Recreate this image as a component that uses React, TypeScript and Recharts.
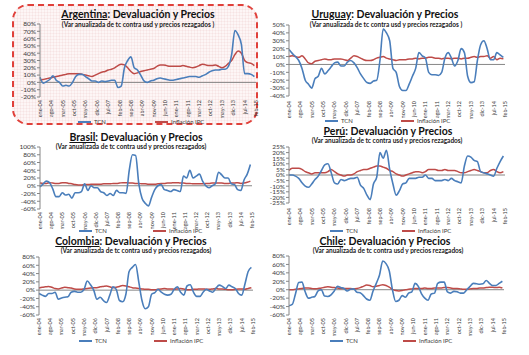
import React from "react";
import { LineChart, Line, XAxis, YAxis, ReferenceLine } from "recharts";

const FONT = "Lato, 'Open Sans', sans-serif";
const TCN_COLOR = "#4A7EBB";
const IPC_COLOR = "#BE4B48";
const AXIS_COLOR = "#868686";
const LABEL_COLOR = "#3a3a3a";
const STEP = 2; // months between samples

const tickLabels = [
  "ene-04", "ago-04", "mar-05", "oct-05", "may-06", "dic-06", "jul-07",
  "feb-08", "sep-08", "abr-09", "nov-09", "jun-10", "ene-11", "ago-11",
  "mar-12", "oct-12", "may-13", "dic-13", "jul-14", "feb-15",
];
const tickMonths = tickLabels.map((_, i) => i * 7);

// Argentina
const argTcn = [7, -1, 1, 4, 9, 3, 0, -5, -4, -5, 0, 8, 11, 11, 8, 5, 2, 2, 0, 2, 1, 2, 3, 3, -7, -5, 20, 30, 35, 20, 17, 10, 2, 0, 2, 3, 5, 6, 5, 4, 3, 3, 4, 5, 6, 7, 8, 8, 8, 7, 9, 11, 14, 16, 17, 17, 18, 18, 22, 38, 71, 65, 52, 12, 12, 11, 8];
const argIpc = [3, 4, 5, 6, 7, 8, 9, 10, 11, 12, 12, 12, 12, 11, 10, 9, 8, 10, 12, 14, 15, 17, 18, 20, 23, 25, 24, 20, 15, 12, 13, 15, 16, 17, 18, 19, 22, 24, 24, 23, 22, 22, 22, 22, 23, 22, 21, 20, 21, 23, 25, 24, 23, 23, 24, 22, 20, 22, 26, 30, 38, 43, 40, 30, 27, 26, 23];
// Uruguay
const uruTcn = [19, 14, 10, 5, -5, -20, -25, -30, -18, -15, -5, -12, -8, -3, 2, 3, -2, -2, 3, 5, 2, -4, -12, -18, -23, -24, -21, -20, 5, 45, 40, 30, -5, -10, -28, -33, -33, -25, -15, -5, 15, 11, 8, -10, -13, -13, -14, -10, 8, 15, 8, -2, 5, 20, 15, -15, -23, -22, 5, 25, 30, 20, 6, 6, 15, 12, 9];
const uruIpc = [10, 11, 10, 9, 11, 7, 2, 1, 4, 5, 6, 7, 6, 6, 7, 7, 7, 6, 5, 8, 11, 10, 8, 6, 5, 5, 6, 8, 9, 10, 8, 7, 6, 5, 6, 6, 6, 7, 7, 8, 7, 8, 8, 9, 9, 8, 8, 7, 8, 8, 7, 8, 8, 7, 8, 8, 9, 10, 9, 10, 10, 11, 8, 10, 6, 8, 7];
// Brasil
const braTcn = [-3, 5, 12, 8, -8, -28, -28, -18, -24, -22, -32, -18, -18, -15, 5, -12, 0, -5, -5, -15, -18, -25, -20, -25, -12, -18, -18, -20, 40, 80, 78, 5, -32, -45, -52, -30, -10, 0, 3, -10, -12, -15, -10, -12, -15, 25, 20, 40, 20, 25, 30, 12, 0, -5, 0, 5, 35, 28, 20, 20, 5, 3, -10, -12, 15, 30, 55];
const braIpc = [7, 6, 6, 8, 7, 6, 6, 8, 8, 6, 5, 3, 2, 2, 3, 3, 4, 4, 4, 4, 5, 5, 5, 6, 6, 7, 8, 8, 7, 7, 6, 6, 5, 5, 4, 4, 4, 5, 6, 6, 7, 7, 8, 8, 7, 7, 6, 6, 5, 5, 5, 5, 6, 6, 7, 7, 7, 7, 6, 6, 7, 7, 8, 6, 7, 9, 12];
// Perú
const peruTcn = [0, 0, -1, -3, -7, -10, -11, -8, -4, -1, 4, 9, 10, 2, -7, -8, -4, -5, -4, -3, -3, -2, -9, -12, -18, -22, -8, -2, 20, 15, 22, 5, -8, -18, -14, -8, -7, -3, -3, -3, -2, -2, 0, -3, -3, -5, -5, -5, -4, -5, -3, -5, -6, -7, 8, 17, 16, 13, 12, 3, 2, 1, 0, -1, 6, 12, 17];
const peruIpc = [4, 6, 6, 6, 5, 3, 2, 1, 2, 2, 2, 2, 3, 5, 3, 1, 0, -1, 0, 0, 1, 3, 4, 5, 5, 6, 7, 8, 8, 7, 6, 4, 3, 1, 0, -1, 0, 1, 2, 3, 3, 2, 3, 5, 5, 5, 4, 4, 5, 4, 4, 4, 3, 2, 2, 3, 4, 5, 4, 3, 2, 2, 4, 5, 3, 2, 3];
// Colombia
const colTcn = [-8, -12, -15, -8, -8, -5, -22, -19, -17, -16, -5, -3, -5, -5, 2, 22, 13, 0, -22, -17, -25, -30, -12, 8, 2, -25, -28, -10, 45, 55, 62, 20, -25, -45, -40, -10, -6, 2, -5, -10, -12, -10, 2, 8, -5, -12, 10, 13, -5, -15, -15, -5, 2, -2, -5, 5, 12, 9, 4, 12, 8, 4, -8, -12, 15, 45, 55];
const colIpc = [5, 7, 8, 9, 7, 4, 3, 5, 7, 6, 5, 3, 2, 2, 3, 4, 5, 6, 6, 8, 9, 10, 8, 6, 7, 9, 11, 10, 8, 6, 5, 4, 3, 2, 2, 1, 1, 2, 3, 4, 3, 3, 2, 3, 4, 3, 1, 1, 2, 2, 3, 3, 2, 2, 3, 4, 3, 3, 2, 1, 1, 2, 3, 3, 2, 4, 6];
// Chile
const chiTcn = [-38, -35, -10, 17, 18, -5, -20, -18, -16, -3, 0, -15, -16, -12, -3, 8, 5, 3, -3, 1, 2, -6, -7, -14, -22, -25, -3, 15, 35, 68, 62, 45, 0, -28, -25, -14, -18, -8, -5, 15, 8, -10, -20, -25, -10, -8, 15, 18, 18, -5, -8, -4, -5, -8, -8, 0, 8, 15, 14, 13, 14, 22, 15, 10, 10, 15, 20];
const chiIpc = [0, 0, 1, 2, 3, 4, 4, 3, 2, 3, 4, 6, 7, 6, 5, 4, 3, 3, 3, 3, 2, 3, 5, 8, 11, 10, 7, 8, 10, 12, 10, 6, 1, -2, -3, -2, 0, 1, 2, 3, 3, 3, 4, 3, 3, 4, 4, 4, 5, 5, 4, 3, 3, 2, 1, 1, 2, 3, 3, 4, 4, 5, 6, 6, 5, 6, 4];

const SUB_A = "(Var anualizada de tc contra usd y precios rezagados )";
const SUB_B = "(Var anualizada de tc contra usd y precios rezagados)";

type Cfg = {
  name: string;
  subtitle: string;
  tcn: number[];
  ipc: number[];
  yTicks: number[];
  plot: { l: number; r: number; t: number; b: number };
  title: { cx: number; y: number };
  sub: { cx: number; y: number };
  legend: { y: number; tcnX: number; ipcX: number };
  labelGap: number;
};

const range = (a: number, b: number, s: number) => {
  const out: number[] = [];
  for (let v = a; v <= b; v += s) out.push(v);
  return out;
};

const panels: Cfg[] = [
  {
    name: "Argentina", subtitle: SUB_A, tcn: argTcn, ipc: argIpc,
    yTicks: range(-20, 80, 10),
    plot: { l: 40, r: 256, t: 24, b: 97 },
    title: { cx: 138, y: 14 }, sub: { cx: 138, y: 24 },
    legend: { y: 122, tcnX: 78, ipcX: 155 }, labelGap: 3,
  },
  {
    name: "Uruguay", subtitle: SUB_A, tcn: uruTcn, ipc: uruIpc,
    yTicks: range(-40, 50, 10),
    plot: { l: 289, r: 505, t: 25, b: 96 },
    title: { cx: 385, y: 14 }, sub: { cx: 386, y: 24 },
    legend: { y: 121, tcnX: 325, ipcX: 401 }, labelGap: 5,
  },
  {
    name: "Brasil", subtitle: SUB_B, tcn: braTcn, ipc: braIpc,
    yTicks: range(-60, 100, 20),
    plot: { l: 40, r: 252, t: 147, b: 209 },
    title: { cx: 136, y: 137 }, sub: { cx: 131, y: 146.5 },
    legend: { y: 231, tcnX: 79, ipcX: 153 }, labelGap: 3,
  },
  {
    name: "Perú", subtitle: SUB_B, tcn: peruTcn, ipc: peruIpc,
    yTicks: range(-25, 25, 5),
    plot: { l: 289, r: 505, t: 147, b: 203 },
    title: { cx: 388, y: 131.5 }, sub: { cx: 387, y: 140.5 },
    legend: { y: 231, tcnX: 330, ipcX: 402 }, labelGap: 5,
  },
  {
    name: "Colombia", subtitle: SUB_B, tcn: colTcn, ipc: colIpc,
    yTicks: range(-60, 80, 20),
    plot: { l: 39, r: 253, t: 257, b: 315 },
    title: { cx: 131, y: 241 }, sub: { cx: 136, y: 250.5 },
    legend: { y: 341, tcnX: 79, ipcX: 154 }, labelGap: 3,
  },
  {
    name: "Chile", subtitle: SUB_B, tcn: chiTcn, ipc: chiIpc,
    yTicks: range(-60, 80, 20),
    plot: { l: 289, r: 504, t: 256, b: 315 },
    title: { cx: 385, y: 241 }, sub: { cx: 388, y: 250.5 },
    legend: { y: 341, tcnX: 330, ipcX: 403 }, labelGap: 3,
  },
];

function XTick(props: any) {
  const { x, y, payload } = props;
  const idx = tickMonths.indexOf(payload.value);
  return (
    <g transform={`translate(${x},${y})`}>
      <text
        transform="rotate(-90)"
        x={0}
        y={0}
        dy="0.35em"
        textAnchor="end"
        fontSize={5.5}
        fill={LABEL_COLOR}
        fontFamily={FONT}
      >
        {idx >= 0 ? tickLabels[idx] : ""}
      </text>
    </g>
  );
}

function Panel({ cfg }: { cfg: Cfg }) {
  const data = cfg.tcn.map((v, i) => ({ m: i * STEP, tcn: v, ipc: cfg.ipc[i] }));
  const YW = 30;
  const ML = 2;
  const MT = 4;
  const MR = 4;
  const XH = 26;
  const left = cfg.plot.l - YW - ML;
  const top = cfg.plot.t - MT;
  const width = cfg.plot.r - left + MR;
  const height = cfg.plot.b - top + XH;
  const yMin = cfg.yTicks[0];
  const yMax = cfg.yTicks[cfg.yTicks.length - 1];
  return (
    <>
      <div
        style={{
          position: "absolute",
          left: cfg.title.cx - 150,
          top: cfg.title.y - 5.5,
          width: 300,
          textAlign: "center",
          fontFamily: FONT,
          fontWeight: 700,
          fontSize: 10.5,
          lineHeight: "11px",
          color: "#111",
          whiteSpace: "nowrap",
        }}
      >
        <span style={{ textDecoration: "underline" }}>{cfg.name}</span>
        {": Devaluación y Precios"}
      </div>
      <div
        style={{
          position: "absolute",
          left: cfg.sub.cx - 150,
          top: cfg.sub.y - 3.5,
          width: 300,
          textAlign: "center",
          fontFamily: FONT,
          fontWeight: 700,
          fontSize: 6.5,
          lineHeight: "7px",
          color: "#222",
          whiteSpace: "nowrap",
        }}
      >
        {cfg.subtitle}
      </div>
      <div style={{ position: "absolute", left, top, width, height }}>
        <LineChart
          width={width}
          height={height}
          data={data}
          margin={{ top: MT, right: MR, bottom: 0, left: ML }}
        >
          <XAxis
            dataKey="m"
            type="number"
            domain={[0, 133]}
            ticks={tickMonths}
            interval={0}
            axisLine={false}
            tickLine={false}
            tickSize={0}
            tickMargin={cfg.labelGap}
            height={XH}
            tick={<XTick />}
          />
          <YAxis
            type="number"
            domain={[yMin, yMax]}
            ticks={cfg.yTicks}
            interval={0}
            width={YW}
            axisLine={{ stroke: AXIS_COLOR }}
            tickLine={{ stroke: AXIS_COLOR }}
            tickSize={3}
            tickMargin={1}
            tick={{ fontSize: 6.5, fill: LABEL_COLOR, fontFamily: FONT }}
            tickFormatter={(v: number) => `${v}%`}
          />
          <ReferenceLine y={0} stroke={AXIS_COLOR} strokeWidth={1} />
          <Line
            type="monotone"
            dataKey="ipc"
            stroke={IPC_COLOR}
            strokeWidth={1.5}
            dot={false}
            isAnimationActive={false}
          />
          <Line
            type="monotone"
            dataKey="tcn"
            stroke={TCN_COLOR}
            strokeWidth={1.6}
            dot={false}
            isAnimationActive={false}
          />
        </LineChart>
      </div>
      {[
        { x: cfg.legend.tcnX, color: TCN_COLOR, label: "TCN" },
        { x: cfg.legend.ipcX, color: IPC_COLOR, label: "Inflación IPC" },
      ].map((it) => (
        <div
          key={it.label}
          style={{
            position: "absolute",
            left: it.x,
            top: cfg.legend.y - 3,
            height: 6,
            lineHeight: "6px",
            display: "flex",
            alignItems: "center",
            fontFamily: FONT,
            fontSize: 6,
            color: LABEL_COLOR,
            whiteSpace: "nowrap",
          }}
        >
          <div style={{ width: 13, height: 2, background: it.color, marginRight: 3 }} />
          <span>{it.label}</span>
        </div>
      ))}
    </>
  );
}

export default function App() {
  return (
    <div
      style={{
        position: "absolute",
        left: 0,
        top: 0,
        width: 529,
        height: 355,
        background: "#ffffff",
        overflow: "hidden",
      }}
    >
      <div
        style={{
          position: "absolute",
          left: 12,
          top: 4,
          width: 246,
          height: 121,
          boxSizing: "border-box",
          border: "2.5px dashed #E0403A",
          borderRadius: 16,
          backgroundColor: "#fdf6f6",
          backgroundImage:
            "linear-gradient(rgba(235,190,190,0.18) 1px, transparent 1px), linear-gradient(90deg, rgba(235,190,190,0.18) 1px, transparent 1px)",
          backgroundSize: "3px 3px",
        }}
      />
      {panels.map((p) => (
        <Panel key={p.name} cfg={p} />
      ))}
    </div>
  );
}
